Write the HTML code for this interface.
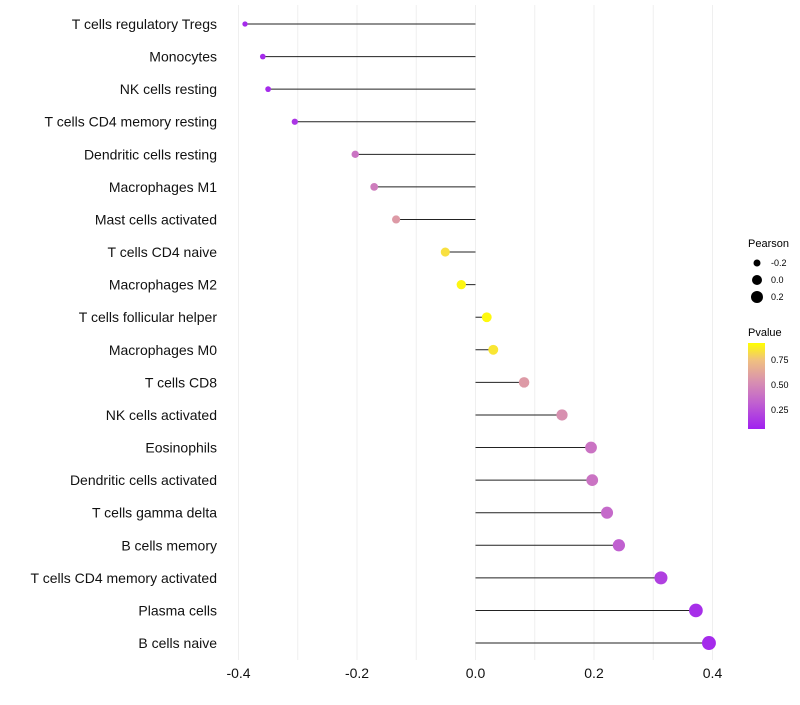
<!DOCTYPE html>
<html><head><meta charset="utf-8"><style>
body{margin:0;background:#fff;font-family:"Liberation Sans",sans-serif}
</style></head><body>
<svg id="c" width="800" height="700" xmlns="http://www.w3.org/2000/svg">
<defs><linearGradient id="pg" x1="0" y1="1" x2="0" y2="0">
<stop offset="0" stop-color="#A020F0"/><stop offset="0.3" stop-color="#C060D0"/><stop offset="0.55" stop-color="#D890B0"/><stop offset="0.8" stop-color="#F0C080"/><stop offset="1" stop-color="#FFFF00"/></linearGradient></defs>
<g id="grid"></g><g id="marks"></g><g id="ylab"></g><g id="xlab"></g>
<g font-size="10">
<text x="748" y="247" font-size="11">Pearson</text>
<circle cx="757" cy="263" r="3.5"/><text x="771" y="266" font-size="9">-0.2</text>
<circle cx="757" cy="280" r="5"/><text x="771" y="283" font-size="9">0.0</text>
<circle cx="757" cy="297" r="6"/><text x="771" y="300" font-size="9">0.2</text>
</g>
<g>
<text x="748" y="336" font-size="11">Pvalue</text>
<rect x="748" y="343" width="17" height="86" fill="url(#pg)"/>
<text x="771" y="363" font-size="9">0.75</text>
<text x="771" y="388" font-size="9">0.50</text>
<text x="771" y="413" font-size="9">0.25</text>
</g>
</svg>
<script>
const cats=["T cells regulatory  Tregs","Monocytes","NK cells resting","T cells CD4 memory resting","Dendritic cells resting","Macrophages M1","Mast cells activated","T cells CD4 naive","Macrophages M2","T cells follicular helper","Macrophages M0","T cells CD8","NK cells activated","Eosinophils","Dendritic cells activated","T cells gamma delta","B cells memory","T cells CD4 memory activated","Plasma cells","B cells naive"];
const pearson=[-0.389,-0.359,-0.350,-0.305,-0.203,-0.171,-0.134,-0.051,-0.024,0.019,0.030,0.082,0.146,0.195,0.197,0.222,0.242,0.313,0.372,0.394];
const pvalue=[0.05,0.05,0.05,0.1,0.4,0.45,0.6,0.9,0.97,0.98,0.92,0.6,0.55,0.4,0.4,0.35,0.3,0.15,0.07,0.05];
const xticks=[-0.4,-0.2,0.0,0.2,0.4];
const xtickLabels=["-0.4","-0.2","0.0","0.2","0.4"];
const NS="http://www.w3.org/2000/svg";
const X=v=>475.5+v*592.5;
const Y=i=>24+i*32.58;
function mk(t,a,p){const e=document.createElementNS(NS,t);for(const k in a)e.setAttribute(k,a[k]);p.appendChild(e);return e;}
const stops=[[0,[160,32,240]],[0.3,[192,96,208]],[0.55,[216,144,176]],[0.8,[240,192,128]],[1,[255,255,0]]];
function col(p){for(let i=1;i<stops.length;i++){if(p<=stops[i][0]){const a=stops[i-1],b=stops[i],t=(p-a[0])/(b[0]-a[0]);return "rgb("+a[1].map((c,j)=>Math.round(c+(b[1][j]-c)*t)).join(",")+")";}}return "rgb(255,255,0)";}
const grid=document.getElementById('grid'),marks=document.getElementById('marks'),yl=document.getElementById('ylab'),xl=document.getElementById('xlab');
for(let v=-0.4;v<=0.401;v+=0.1){const g=mk('line',{x1:X(v),x2:X(v),y1:5,y2:660,stroke:'#efefef','stroke-width':1},grid);

}
cats.forEach((c,i)=>{
const s=mk('line',{x1:X(0),x2:X(pearson[i]),y1:Y(i),y2:Y(i),stroke:'#222','stroke-width':1},marks);


const d=mk('circle',{cx:X(pearson[i]),cy:Y(i),r:Math.max(1.5,4.8+5.5*pearson[i]),fill:col(pvalue[i])},marks);


const t=mk('text',{x:217,y:Y(i)+5,'text-anchor':'end','font-size':14,fill:'#111'},yl);t.textContent=c;


});
xticks.forEach((v,i)=>{const t=mk('text',{x:X(v),y:678,'text-anchor':'middle','font-size':14,fill:'#111'},xl);t.textContent=xtickLabels[i];

});
</script>
</body></html>
